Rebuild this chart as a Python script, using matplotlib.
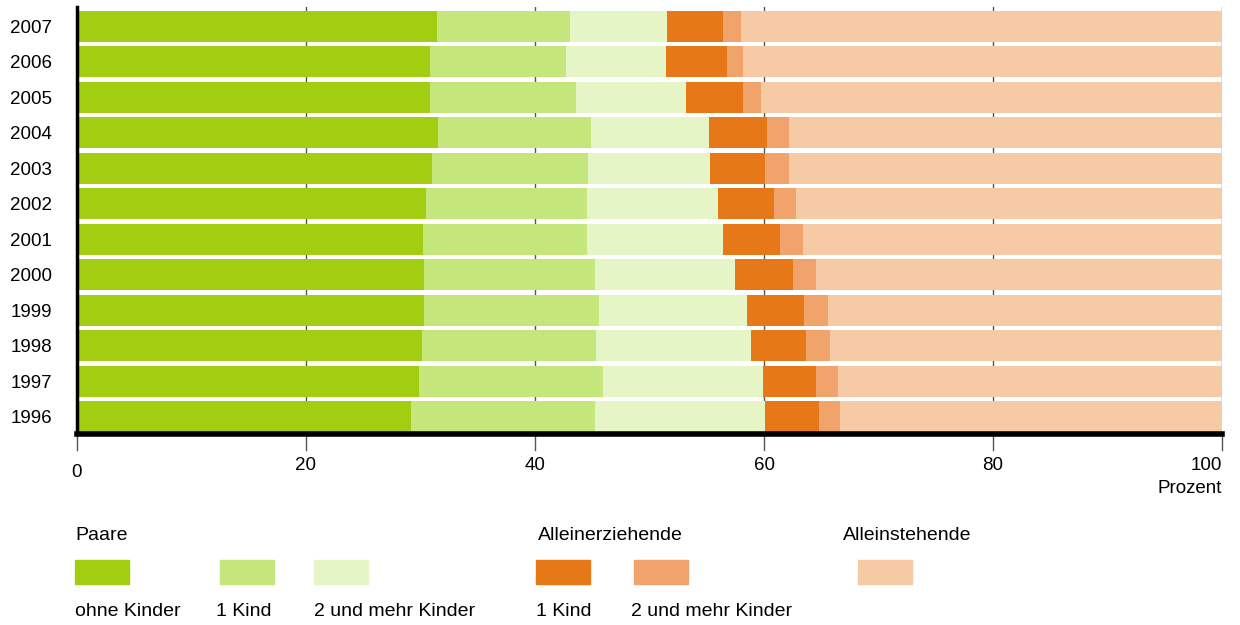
import matplotlib.pyplot as plt
import matplotlib.patches as mpatches
import numpy as np

plt.rcParams['font.family'] = ['Liberation Sans', 'DejaVu Sans']

years = ["2007", "2006", "2005", "2004", "2003", "2002",
         "2001", "2000", "1999", "1998", "1997", "1996"]

# Anteile in Prozent
paare_ohne = [31.4, 30.8, 30.8, 31.5, 31.0, 30.5, 30.2, 30.3, 30.3, 30.1, 29.9, 29.2]
paare_1 = [11.7, 11.9, 12.8, 13.4, 13.6, 14.0, 14.3, 14.9, 15.3, 15.2, 16.0, 16.0]
paare_2 = [8.4, 8.7, 9.6, 10.3, 10.7, 11.5, 11.9, 12.3, 12.9, 13.6, 14.0, 14.9]
allein_1 = [4.9, 5.4, 5.0, 5.1, 4.8, 4.9, 5.0, 5.0, 5.0, 4.8, 4.6, 4.7]
allein_2 = [1.6, 1.4, 1.5, 1.9, 2.1, 1.9, 2.0, 2.0, 2.1, 2.1, 2.0, 1.8]
alleinstehend = [42.0, 41.8, 40.3, 37.8, 37.8, 37.2, 36.6, 35.5, 34.4, 34.2, 33.5, 33.4]

series = [paare_ohne, paare_1, paare_2, allein_1, allein_2, alleinstehend]
colors = ['#a2cd10', '#c4e67a', '#e6f5c5', '#e67817', '#f0a46c', '#f6caa4']
labels = ['ohne Kinder', '1 Kind', '2 und mehr Kinder',
          '1 Kind', '2 und mehr Kinder', '']

fs = 13.5
fs_leg = 14

fig = plt.figure(figsize=(12.4, 6.25), dpi=100)
ax = fig.add_axes([77/1240, 1 - 434/625, 1145/1240, 427/625])

y = np.arange(len(years))[::-1]
left = np.zeros(len(years))
for vals, c in zip(series, colors):
    ax.barh(y, vals, left=left, height=0.875, color=c, edgecolor='none', zorder=2)
    left += np.array(vals)

ax.set_xlim(0, 100)
ax.set_ylim(-0.49, 11.55)
ax.set_yticks(y)
ax.set_yticklabels(years, fontsize=fs)
ax.tick_params(axis='y', length=0, pad=18)
ax.set_xticks(np.arange(0, 101, 20))
ax.set_xticklabels([])
ax.tick_params(axis='x', length=0)
ax.grid(True, axis='x', color='#555555', lw=1, zorder=0)

for s in ['top', 'right']:
    ax.spines[s].set_visible(False)
ax.spines['left'].set_linewidth(2.5)
ax.spines['bottom'].set_linewidth(4)

# Striche unter der Achse
for t in np.arange(0, 101, 20):
    ax.plot([t, t], [-0.49, -0.95], color='#555555', lw=1, clip_on=False)
    if t == 0:
        ax.text(t, -1.58, str(t), ha='center', va='center', fontsize=fs)
    elif t == 100:
        ax.text(t, -1.38, str(t), ha='right', va='center', fontsize=fs)
    else:
        ax.text(t, -1.38, str(t), ha='center', va='center', fontsize=fs)
ax.text(100, -2.03, 'Prozent', ha='right', va='center', fontsize=fs)

# Legende
def px(x, yy):
    return x / 1240, 1 - yy / 625

for txt, x in [('Paare', 75), ('Alleinerziehende', 538), ('Alleinstehende', 843)]:
    fig.text(*px(x, 535), txt, fontsize=fs_leg, va='center', ha='left')

box_x = [75, 220, 314, 536, 634, 858]
lab_x = [75, 216, 314, 536, 631, 858]
for bx, lx, c, lab in zip(box_x, lab_x, colors, labels):
    fx, fy = px(bx, 584)
    fig.patches.append(mpatches.Rectangle((fx, fy), 54/1240, 24/625,
                                          transform=fig.transFigure, color=c))
    if lab:
        fig.text(*px(lx, 612), lab, fontsize=fs_leg, va='center', ha='left')

fig.savefig('out.png', dpi=100)
